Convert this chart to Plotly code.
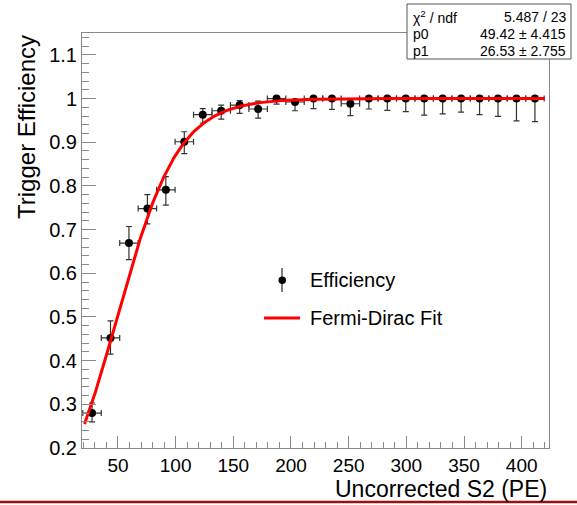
import numpy as np
import plotly.graph_objects as go

# ---------------- data ----------------
s2_centers = [27.5, 43.5, 59.5, 75.5, 91.5, 107.5, 123.5, 139.5, 155.5, 171.5,
              187.5, 203.5, 219.5, 235.5, 251.5, 267.5, 283.5, 299.5, 315.5, 331.5,
              347.5, 363.5, 379.5, 395.5, 411.5]
bin_half_width = [8.0] * 25
efficiency = [0.280, 0.452, 0.669, 0.748, 0.791, 0.901, 0.963, 0.972, 0.985, 0.976,
              1.000, 0.992, 1.000, 1.000, 0.988, 1.000, 1.000, 1.000, 1.000, 1.000,
              1.000, 1.000, 1.000, 1.000, 1.000]
err_up = [0.023, 0.039, 0.038, 0.032, 0.030, 0.023, 0.014, 0.013, 0.010, 0.018,
          0.000, 0.003, 0.000, 0.000, 0.009, 0.000, 0.000, 0.000, 0.000, 0.000,
          0.000, 0.000, 0.000, 0.000, 0.000]
err_down = [0.020, 0.037, 0.038, 0.035, 0.035, 0.027, 0.019, 0.019, 0.019, 0.021,
            0.013, 0.020, 0.023, 0.025, 0.027, 0.024, 0.027, 0.030, 0.038, 0.035,
            0.031, 0.037, 0.041, 0.051, 0.053]

# fit parameters (from stats box)
fit_p0 = 49.42
fit_p1 = 26.53
fit_range = [21.0, 420.0]

x_tick_vals = [50, 100, 150, 200, 250, 300, 350, 400]
x_tick_text = ["50", "100", "150", "200", "250", "300", "350", "400"]
y_tick_vals = [0.2, 0.3, 0.4, 0.5, 0.6, 0.7, 0.8, 0.9, 1.0, 1.1]
y_tick_text = ["0.2", "0.3", "0.4", "0.5", "0.6", "0.7", "0.8", "0.9", "1", "1.1"]

stats_labels = ["χ<sup>2</sup> / ndf", "p0", "p1"]
stats_values = ["5.487 / 23", "49.42 ± 4.415", "26.53 ± 2.755"]

# ---------------- layout geometry ----------------
W, H = 577, 505
L, R, T, B = 82, 28, 33, 57
PW, PH = W - L - R, H - T - B


def px(xp):
    return (xp - L) / PW


def py(yp):
    return (H - B - yp) / PH


FONT = "Liberation Sans, Arial, sans-serif"
GRAY = "#8a8a8a"

fit_x = np.linspace(fit_range[0], fit_range[1], 400)
fit_y = 1.0 / (1.0 + np.exp(-(fit_x - fit_p0) / fit_p1))

fig = go.Figure()
fig.add_trace(go.Scatter(
    x=s2_centers, y=efficiency, mode="markers", name="Efficiency",
    marker=dict(color="black", size=8),
    error_y=dict(type="data", symmetric=False, array=err_up, arrayminus=err_down,
                 color="#333333", thickness=1.2, width=3),
    error_x=dict(type="data", array=bin_half_width, color="#333333", thickness=1.2, width=3),
    showlegend=False,
))
fig.add_trace(go.Scatter(
    x=fit_x, y=fit_y, mode="lines", name="Fermi-Dirac Fit",
    line=dict(color="#ff0000", width=3), showlegend=False,
))

shapes = []
annotations = []

# manual legend
shapes.append(dict(type="line", xref="paper", yref="paper",
                   x0=px(282), x1=px(282), y0=py(268), y1=py(292),
                   line=dict(color="black", width=1)))
shapes.append(dict(type="circle", xref="paper", yref="paper",
                   x0=px(278.5), x1=px(286), y0=py(284), y1=py(276.5),
                   fillcolor="black", line=dict(color="black", width=0)))
shapes.append(dict(type="line", xref="paper", yref="paper",
                   x0=px(264), x1=px(300), y0=py(318), y1=py(318),
                   line=dict(color="#ff0000", width=3)))
annotations.append(dict(text="Efficiency", xref="paper", yref="paper",
                        x=px(308), y=py(280), xanchor="left", yanchor="middle",
                        showarrow=False, font=dict(family=FONT, size=20, color="black")))
annotations.append(dict(text="Fermi-Dirac Fit", xref="paper", yref="paper",
                        x=px(308), y=py(318), xanchor="left", yanchor="middle",
                        showarrow=False, font=dict(family=FONT, size=20, color="black")))

# stats box
shapes.append(dict(type="rect", xref="paper", yref="paper",
                   x0=px(407), x1=px(571), y0=py(59), y1=py(4),
                   fillcolor="white", line=dict(color="#555555", width=1), layer="above"))
rows_y = [17, 34, 51]
for lab, val, ry in zip(stats_labels, stats_values, rows_y):
    annotations.append(dict(text=lab, xref="paper", yref="paper", x=px(411), y=py(ry),
                            xanchor="left", yanchor="middle", showarrow=False,
                            font=dict(family=FONT, size=14, color="black")))
    annotations.append(dict(text=val, xref="paper", yref="paper", x=px(568), y=py(ry),
                            xanchor="right", yanchor="middle", showarrow=False,
                            font=dict(family=FONT, size=14, color="black")))

# axis titles
annotations.append(dict(text="Trigger Efficiency", xref="paper", yref="paper",
                        x=px(26), y=1.0, xanchor="center", yanchor="top", textangle=-90,
                        showarrow=False, font=dict(family=FONT, size=24, color="black")))
annotations.append(dict(text="Uncorrected S2 (PE)", xref="paper", yref="paper",
                        x=1.0, y=py(489), xanchor="right", yanchor="middle",
                        showarrow=False, font=dict(family=FONT, size=23, color="black")))

# decorative red rule at bottom
shapes.append(dict(type="line", xref="paper", yref="paper",
                   x0=px(0), x1=px(577), y0=py(502), y1=py(502),
                   line=dict(color="#9c1010", width=2.5)))

fig.update_layout(
    width=W, height=H, autosize=False,
    margin=dict(l=L, r=R, t=T, b=B, pad=0),
    paper_bgcolor="white", plot_bgcolor="white",
    showlegend=False,
    shapes=shapes, annotations=annotations,
    font=dict(family=FONT, size=20, color="black"),
)
fig.update_xaxes(
    range=[18.8, 423.7], showgrid=False, zeroline=False,
    showline=True, linecolor=GRAY, linewidth=1, mirror=True,
    tickmode="array", tickvals=x_tick_vals, ticktext=x_tick_text,
    ticks="inside", ticklen=12, tickcolor=GRAY, tickwidth=1,
    tickfont=dict(family=FONT, size=19, color="black"),
    minor=dict(tick0=0, dtick=10, ticks="inside", ticklen=6, tickcolor=GRAY, showgrid=False),
)
fig.update_yaxes(
    range=[0.2, 1.15], showgrid=False, zeroline=False,
    showline=True, linecolor=GRAY, linewidth=1, mirror=True,
    tickmode="array", tickvals=y_tick_vals, ticktext=y_tick_text,
    ticks="inside", ticklen=14, tickcolor=GRAY, tickwidth=1,
    tickfont=dict(family=FONT, size=20, color="black"),
    minor=dict(tick0=0.2, dtick=0.02, ticks="inside", ticklen=7, tickcolor=GRAY, showgrid=False),
)

fig.write_html("out.html")
